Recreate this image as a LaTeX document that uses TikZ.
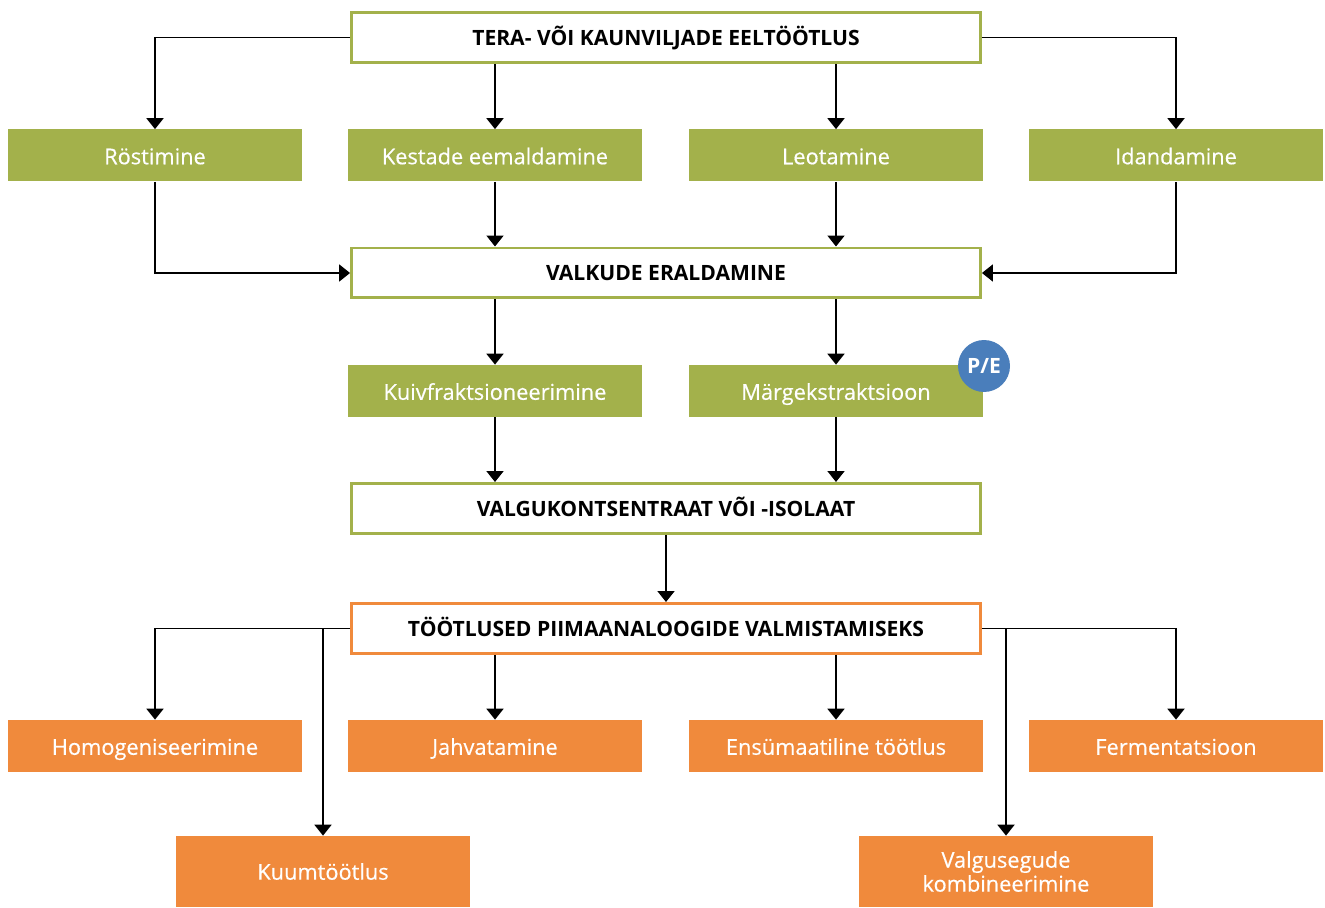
\documentclass[tikz,border=0pt]{standalone}
\usepackage{fontspec}
\setmainfont{Open Sans}
\newfontfamily\stepfont{Open Sans}[FakeBold=0.45]
\usetikzlibrary{arrows.meta}
\definecolor{grn}{HTML}{A3B14B}
\definecolor{org}{HTML}{F08A3C}
\definecolor{blu}{HTML}{4A7EBB}
\tikzset{
  x=0.02cm, y=-0.02cm,
  headbox/.style={draw=#1, line width=1.7pt, fill=white, minimum width=12.58cm, minimum height=1.0cm, inner sep=0pt, text height=8.6pt, text depth=0pt, font=\fontsize{12}{14}\selectfont\bfseries, text=black},
  stepbox/.style={fill=#1, minimum width=5.88cm, minimum height=1.04cm, inner sep=0pt, text height=10pt, text depth=0pt, text=white, font=\stepfont\fontsize{12.4}{14.5}\selectfont},
  tallbox/.style={fill=#1, minimum width=5.88cm, minimum height=1.42cm, inner sep=0pt, text=white, align=center, font=\stepfont\fontsize{12.4}{13.6}\selectfont},
  arr/.style={draw=black, line width=1.1pt, -{Triangle[width=0.34cm,length=0.22cm]}},
}
\begin{document}
\begin{tikzpicture}
\useasboundingbox (0,0) rectangle (1325,908);
\node[headbox=grn] (top) at (666,37.5) {TERA- VÕI KAUNVILJADE EELTÖÖTLUS};
\node[stepbox=grn] (rost) at (155,155.5) {Röstimine};
\node[stepbox=grn] (kest) at (495,155.5) {Kestade eemaldamine};
\node[stepbox=grn] (leot) at (836,155.5) {Leotamine};
\node[stepbox=grn] (idan) at (1176,155.5) {Idandamine};
\node[headbox=grn] (valk) at (666,273) {VALKUDE ERALDAMINE};
\node[stepbox=grn] (kuiv) at (495,391) {Kuivfraktsioneerimine};
\node[stepbox=grn] (marg) at (836,391) {Märgekstraktsioon};
\node[circle, fill=blu, minimum size=1.04cm, inner sep=0pt, text=white, font=\fontsize{12}{14}\selectfont\bfseries] (pe) at (984,366) {P/E};
\node[headbox=grn] (konts) at (666,508.5) {VALGUKONTSENTRAAT VÕI -ISOLAAT};
\node[headbox=org] (tootl) at (666,628.5) {TÖÖTLUSED PIIMAANALOOGIDE VALMISTAMISEKS};
\node[stepbox=org] (homo) at (155,746) {Homogeniseerimine};
\node[stepbox=org] (jahv) at (495,746) {Jahvatamine};
\node[stepbox=org] (ensu) at (836,746) {Ensümaatiline töötlus};
\node[stepbox=org] (ferm) at (1176,746) {Fermentatsioon};
\node[tallbox=org] (kuum) at (323,871.5) {Kuumtöötlus};
\node[tallbox=org] (valg) at (1006,871.5) {Valgusegude\\kombineerimine};
\draw[arr] (top.west) -| (rost.north);
\draw[arr] (top.east) -| (idan.north);
\draw[arr] (kest.north |- top.south) -- (kest.north);
\draw[arr] (leot.north |- top.south) -- (leot.north);
\draw[arr] (rost.south) |- (valk.west);
\draw[arr] (idan.south) |- (valk.east);
\draw[arr] (kest.south) -- (kest.south |- valk.north);
\draw[arr] (leot.south) -- (leot.south |- valk.north);
\draw[arr] (kuiv.north |- valk.south) -- (kuiv.north);
\draw[arr] (marg.north |- valk.south) -- (marg.north);
\draw[arr] (kuiv.south) -- (kuiv.south |- konts.north);
\draw[arr] (marg.south) -- (marg.south |- konts.north);
\draw[arr] (konts.south) -- (tootl.north);
\draw[arr] (tootl.west) -| (homo.north);
\draw[arr] (tootl.east) -| (ferm.north);
\draw[arr] (kuum.north |- tootl.west) -- (kuum.north);
\draw[arr] (valg.north |- tootl.east) -- (valg.north);
\draw[arr] (jahv.north |- tootl.south) -- (jahv.north);
\draw[arr] (ensu.north |- tootl.south) -- (ensu.north);
\end{tikzpicture}
\end{document}
